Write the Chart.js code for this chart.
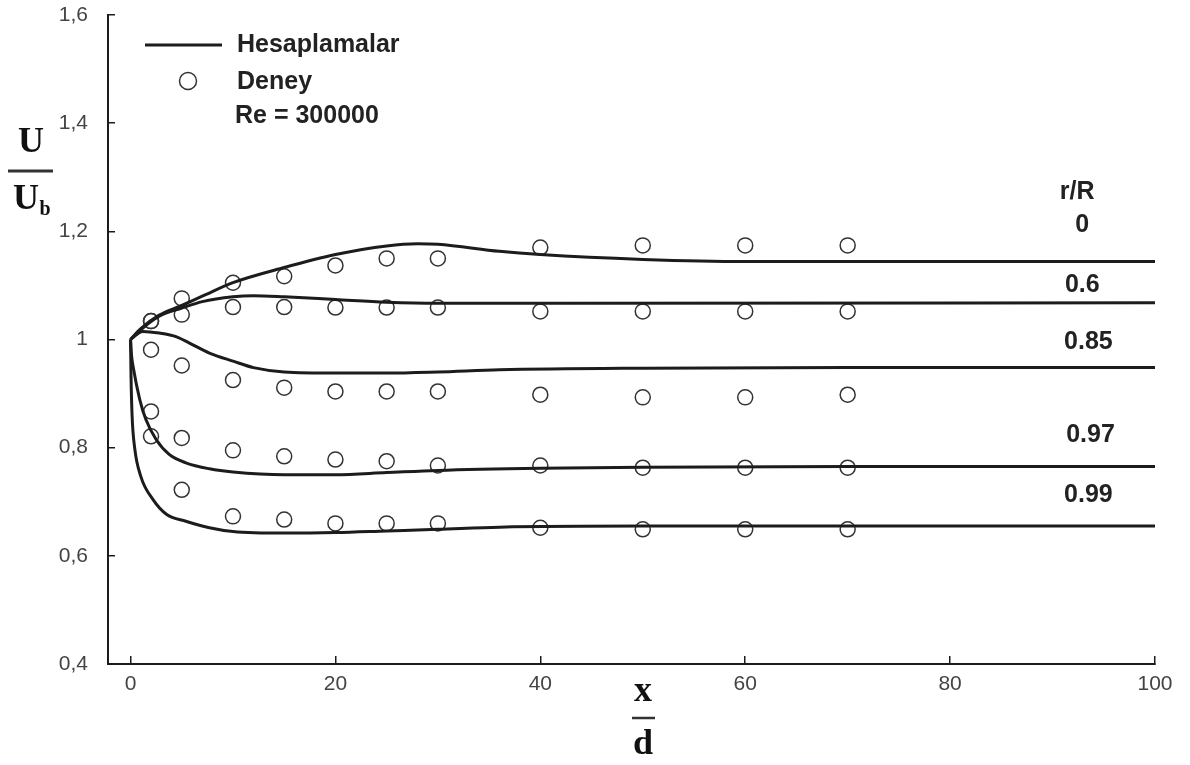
<!DOCTYPE html>
<html>
<head>
<meta charset="utf-8">
<script src="https://cdn.jsdelivr.net/npm/chart.js@4.4.1/dist/chart.umd.min.js"></script>
<style>
    html, body { margin: 0; padding: 0; background: #fff; }
    #wrap { width: 1190px; height: 765px; position: relative; }
</style>
</head>
<body>
<div id="wrap"><canvas id="profileChart" width="1190" height="765"></canvas></div>
<script>
// x/d ticks and U/Ub ticks
const xTicks = [0, 20, 40, 60, 80, 100];
const yTicks = [0.4, 0.6, 0.8, 1, 1.2, 1.4, 1.6];

// Deney (experiment) - same x stations for every r/R
const expX = [2, 5, 10, 15, 20, 25, 30, 40, 50, 60, 70];
const exp0 = [1.034, 1.076, 1.105, 1.117, 1.137, 1.150, 1.150, 1.170, 1.174, 1.174, 1.174];
const exp06 = [1.034, 1.046, 1.060, 1.060, 1.059, 1.059, 1.059, 1.052, 1.052, 1.052, 1.052];
const exp085 = [0.981, 0.952, 0.925, 0.911, 0.904, 0.904, 0.904, 0.898, 0.893, 0.893, 0.898];
const exp097 = [0.867, 0.818, 0.795, 0.784, 0.778, 0.775, 0.767, 0.767, 0.763, 0.763, 0.763];
const exp099 = [0.821, 0.722, 0.673, 0.667, 0.660, 0.660, 0.660, 0.652, 0.649, 0.649, 0.649];

// Hesaplamalar (calculation) curves
const calcX0 = [0, 1, 2.8, 5, 7, 10, 15, 20, 25, 28, 30, 36, 40, 50, 60, 70, 100];
const calc0 = [1.0, 1.02, 1.045, 1.063, 1.08, 1.105, 1.133, 1.157, 1.173, 1.177, 1.176, 1.163, 1.157, 1.148, 1.144, 1.144, 1.144];

const calcX06 = [0, 1, 2.8, 5, 7, 10, 12, 15, 20, 25, 30, 40, 100];
const calc06 = [1.0, 1.018, 1.043, 1.058, 1.07, 1.079, 1.081, 1.079, 1.074, 1.069, 1.067, 1.067, 1.068];

const calcX085 = [0, 1.2, 2.8, 4.5, 5.8, 7.7, 10, 12, 15, 20, 25, 30, 36, 50, 70, 100];
const calc085 = [1.0, 1.015, 1.012, 1.005, 0.993, 0.975, 0.96, 0.948, 0.94, 0.938, 0.938, 0.94, 0.944, 0.947, 0.948, 0.948];

const calcX097 = [0, 0.1, 0.25, 0.9, 1.5, 2.5, 3.8, 5.4, 7.7, 10, 15, 20, 25, 30, 40, 50, 70, 100];
const calc097 = [1.0, 0.97, 0.95, 0.889, 0.852, 0.815, 0.787, 0.772, 0.761, 0.755, 0.75, 0.75, 0.754, 0.758, 0.762, 0.764, 0.765, 0.765];

const calcX099 = [0, 0.05, 0.15, 0.4, 1.0, 2.2, 3.5, 5.4, 7.7, 10, 15, 20, 25, 30, 36, 50, 70, 100];
const calc099 = [1.0, 0.93, 0.86, 0.8, 0.747, 0.704, 0.677, 0.664, 0.652, 0.645, 0.642, 0.643, 0.646, 0.649, 0.653, 0.655, 0.655, 0.655];

// r/R labels on the right
const rLabels = ['r/R', '0', '0.6', '0.85', '0.97', '0.99'];
const rLabelX = [92.4, 92.9, 92.9, 93.5, 93.7, 93.5];
const rLabelY = [1.272, 1.211, 1.100, 0.996, 0.824, 0.713];

const toPoints = (xs, ys) => xs.map((x, i) => ({ x, y: ys[i] }));

const INK = '#1c1c1c';
const SANS = "'Liberation Sans', Arial, sans-serif";
const SERIF = "'Liberation Serif', 'Times New Roman', serif";

const lineSet = (xs, ys) => ({
    data: toPoints(xs, ys),
    showLine: true,
    borderColor: INK,
    borderWidth: 3,
    pointRadius: 0,
    cubicInterpolationMode: 'monotone',
    fill: false,
});

const pointSet = ys => ({
    data: toPoints(expX, ys),
    showLine: false,
    pointStyle: 'circle',
    pointRadius: 7.5,
    pointBorderWidth: 1.5,
    pointBorderColor: '#333',
    pointBackgroundColor: 'rgba(255,255,255,0)',
});

const textPlugin = {
    id: 'textPlugin',
    afterDraw(chart) {
        const { ctx, scales } = chart;
        const xs = scales.x;
        const ys = scales.y;
        ctx.save();

        // legend
        ctx.strokeStyle = INK;
        ctx.lineWidth = 3;
        ctx.beginPath();
        ctx.moveTo(145, 45);
        ctx.lineTo(222, 45);
        ctx.stroke();
        ctx.lineWidth = 1.5;
        ctx.strokeStyle = '#333';
        ctx.beginPath();
        ctx.arc(188, 81, 8.5, 0, Math.PI * 2);
        ctx.stroke();

        ctx.fillStyle = '#222';
        ctx.font = 'bold 25px ' + SANS;
        ctx.textAlign = 'left';
        ctx.textBaseline = 'middle';
        ctx.fillText('Hesaplamalar', 237, 45);
        ctx.fillText('Deney', 237, 82);
        ctx.fillText('Re = 300000', 235, 116);

        // r/R labels
        ctx.textAlign = 'center';
        rLabels.forEach((t, i) => {
            ctx.fillText(t, xs.getPixelForValue(rLabelX[i]), ys.getPixelForValue(rLabelY[i]));
        });

        // y title U / Ub
        ctx.fillStyle = '#111';
        ctx.font = 'bold 36px ' + SERIF;
        ctx.fillText('U', 31, 143);
        ctx.fillText('U', 26, 200);
        ctx.font = 'bold 20px ' + SERIF;
        ctx.fillText('b', 45, 210);
        ctx.lineWidth = 3;
        ctx.strokeStyle = '#333';
        ctx.beginPath();
        ctx.moveTo(8, 171);
        ctx.lineTo(53, 171);
        ctx.stroke();

        // x title x / d
        ctx.font = 'bold 36px ' + SERIF;
        ctx.fillText('x', 643, 692);
        ctx.fillText('d', 643, 745);
        ctx.lineWidth = 2.5;
        ctx.beginPath();
        ctx.moveTo(632, 718);
        ctx.lineTo(655, 718);
        ctx.stroke();

        ctx.restore();
    },
};

new Chart(document.getElementById('profileChart'), {
    type: 'scatter',
    data: {
        datasets: [
            lineSet(calcX0, calc0),
            lineSet(calcX06, calc06),
            lineSet(calcX085, calc085),
            lineSet(calcX097, calc097),
            lineSet(calcX099, calc099),
            pointSet(exp0),
            pointSet(exp06),
            pointSet(exp085),
            pointSet(exp097),
            pointSet(exp099),
        ],
    },
    options: {
        responsive: false,
        animation: false,
        layout: { padding: { top: 15, right: 35, left: 0, bottom: 0 } },
        scales: {
            x: {
                type: 'linear',
                min: -2.2,
                max: 100,
                afterBuildTicks: s => { s.ticks = xTicks.map(v => ({ value: v })); },
                afterFit: s => {
                    s.height = 101;
                    s.paddingLeft = 0;
                    s.paddingRight = 0;
                },
                grid: { drawOnChartArea: false, drawTicks: true, tickLength: -8, color: INK, lineWidth: 1.5 },
                border: { display: true, color: INK, width: 2 },
                ticks: {
                    padding: 16,
                    color: '#444',
                    font: { family: SANS, size: 21 },
                    maxRotation: 0,
                    autoSkip: false,
                },
            },
            y: {
                type: 'linear',
                min: 0.4,
                max: 1.6,
                afterBuildTicks: s => { s.ticks = yTicks.map(v => ({ value: v })); },
                afterFit: s => {
                    s.width = 108;
                    s.paddingTop = 0;
                    s.paddingBottom = 0;
                },
                grid: { drawOnChartArea: false, drawTicks: true, tickLength: -7, color: INK, lineWidth: 1.5 },
                border: { display: true, color: INK, width: 2 },
                ticks: {
                    padding: 27,
                    color: '#444',
                    font: { family: SANS, size: 21 },
                    autoSkip: false,
                    callback: v => String(Number(v.toFixed(1))).replace('.', ','),
                },
            },
        },
        plugins: {
            legend: { display: false },
            tooltip: { enabled: false },
        },
    },
    plugins: [textPlugin],
});
</script>
</body>
</html>
